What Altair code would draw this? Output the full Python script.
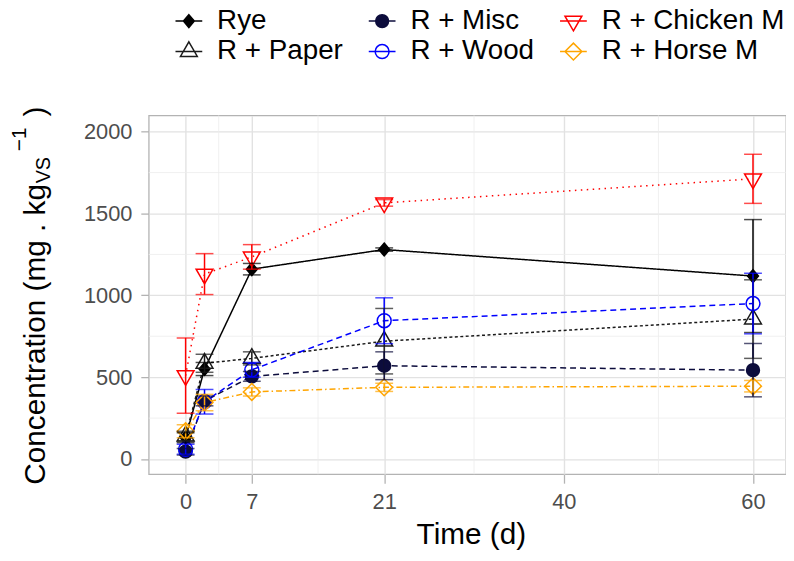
import altair as alt
import pandas as pd

# ---------------- data ----------------
days = [0, 2, 7, 21, 60]
# legend is laid out column by column: (Rye, Paper) (Misc, Wood) (Chicken, Horse)
series_order = ["Rye", "R + Paper", "R + Misc", "R + Wood", "R + Chicken M", "R + Horse M"]

rye_mean = [130, 550, 1160, 1280, 1118]
rye_sd = [30, 40, 35, 10, 345]
paper_mean = [140, 585, 615, 720, 855]
paper_sd = [30, 55, 40, 200, 240]
misc_mean = [45, 355, 505, 570, 543]
misc_sd = [20, 30, 30, 85, 163]
wood_mean = [60, 350, 545, 845, 950]
wood_sd = [30, 75, 45, 140, 185]
chicken_mean = [510, 1130, 1235, 1565, 1712]
chicken_sd = [230, 125, 75, 20, 150]
horse_mean = [170, 345, 410, 438, 445]
horse_sd = [40, 50, 25, 25, 35]

colors = ["#000000", "#1a1a1a", "#0c0c3c", "#0000ff", "#ff0000", "#ffa500"]
fills = ["#000000", "transparent", "#0c0c3c", "transparent", "transparent", "transparent"]
dashes = [[1, 0], [3, 2.5], [6, 4], [6, 4], [1.5, 4.5], [6, 3, 1.5, 3]]

x_ticks = [0, 7, 21, 40, 60]
x_minor = [3.5, 14, 30.5, 50]
y_ticks = [0, 500, 1000, 1500, 2000]
y_minor = [250, 750, 1250, 1750]

means = {"Rye": rye_mean, "R + Misc": misc_mean, "R + Chicken M": chicken_mean,
         "R + Paper": paper_mean, "R + Wood": wood_mean, "R + Horse M": horse_mean}
sds = {"Rye": rye_sd, "R + Misc": misc_sd, "R + Chicken M": chicken_sd,
       "R + Paper": paper_sd, "R + Wood": wood_sd, "R + Horse M": horse_sd}

rows = []
for s in series_order:
    for d, m, e in zip(days, means[s], sds[s]):
        rows.append({"series": s, "day": d, "value": m, "lo": m - e, "hi": m + e})
df = pd.DataFrame(rows)

# ---------------- shapes (pixel geometry -> unit paths) ----------------
PLOT_UNIT = 9.0    # point size 324
LEG_UNIT = 13.5    # legend symbol size 729


def poly(pts, u):
    return "M" + "L".join(f"{x / u:.3f},{y / u:.3f}" for x, y in pts) + "Z"


def circ(r, u):
    a = r / u
    return f"M{a:.3f},0A{a:.3f},{a:.3f},0,1,1,{-a:.3f},0A{a:.3f},{a:.3f},0,1,1,{a:.3f},0Z"


geom = {
    "Rye": ("p", [(0, -6.5), (5.5, 0), (0, 6.5), (-5.5, 0)]),
    "R + Misc": ("c", 6.5),
    "R + Chicken M": ("p", [(0, 9.8), (8.5, -4.9), (-8.5, -4.9)]),
    "R + Paper": ("p", [(0, -9.8), (8.5, 4.9), (-8.5, 4.9)]),
    "R + Wood": ("c", 7.0),
    "R + Horse M": ("p", [(0, -8.5), (8.5, 0), (0, 8.5), (-8.5, 0)]),
}


def shape_path(s, u):
    kind, g = geom[s]
    return poly(g, u) if kind == "p" else circ(g, u)


plot_paths = [shape_path(s, PLOT_UNIT) for s in series_order]
legend_paths = ["M-1,0L1,0" + shape_path(s, LEG_UNIT) for s in series_order]

# ---------------- scales / axes ----------------
FONT = "Liberation Sans"
xscale = alt.Scale(domain=[-3.9, 63.49], nice=False, zero=False)
yscale = alt.Scale(domain=[-93, 2099], nice=False, zero=False)
xaxis = alt.Axis(values=x_ticks, title="Time (d)", tickSize=9, labelPadding=9,
                 titleBaseline="alphabetic", titleY=70, titleX=325, format="d")
yaxis = alt.Axis(values=y_ticks, title=None, tickSize=8, labelPadding=9, format="d")

color_scale = alt.Scale(domain=series_order, range=colors)
fill_scale = alt.Scale(domain=series_order, range=fills)

X = alt.X("day:Q", scale=xscale, axis=xaxis)


def Y(field):
    return alt.Y(f"{field}:Q", scale=yscale, axis=yaxis)


base = alt.Chart(df)

grid_v = alt.Chart(pd.DataFrame({"gx": x_minor})).mark_rule(
    color="#ececec", strokeWidth=0.8).encode(x=alt.X("gx:Q", scale=xscale, axis=xaxis))
grid_h = alt.Chart(pd.DataFrame({"gy": y_minor})).mark_rule(
    color="#ececec", strokeWidth=0.8).encode(y=alt.Y("gy:Q", scale=yscale, axis=yaxis))

lines = base.mark_line(strokeWidth=1.5).encode(
    x=X, y=Y("value"),
    color=alt.Color("series:N", scale=color_scale, legend=None),
    strokeDash=alt.StrokeDash("series:N", scale=alt.Scale(domain=series_order, range=dashes), legend=None),
)

points = base.mark_point(size=324, strokeWidth=1.5, opacity=1, filled=False).encode(
    x=X, y=Y("value"),
    color=alt.Color("series:N", scale=color_scale, legend=None),
    fill=alt.Fill("series:N", scale=fill_scale, legend=None),
    shape=alt.Shape("series:N", scale=alt.Scale(domain=series_order, range=plot_paths), legend=None),
)

err_rule = base.mark_rule(strokeWidth=1.5).encode(
    x=X, y=Y("lo"), y2="hi:Q",
    color=alt.Color("series:N", scale=color_scale, legend=None),
)
cap_lo = base.mark_tick(orient="horizontal", size=18, thickness=1.5).encode(
    x=X, y=Y("lo"), color=alt.Color("series:N", scale=color_scale, legend=None))
cap_hi = base.mark_tick(orient="horizontal", size=18, thickness=1.5).encode(
    x=X, y=Y("hi"), color=alt.Color("series:N", scale=color_scale, legend=None))

plot_layer = alt.layer(grid_v, grid_h, lines, points, err_rule, cap_lo, cap_hi)

leg = alt.Legend(orient="none", legendX=26, legendY=-110, columns=3, columnPadding=23,
                 rowPadding=2, symbolSize=729, symbolStrokeWidth=1.5, labelFontSize=28,
                 labelFont=FONT, labelColor="black", labelOffset=14, labelLimit=0,
                 title=None, padding=0, gridAlign="each")

legend_layer = base.mark_point(size=0, strokeWidth=1.5, opacity=1, filled=False).encode(
    x=X, y=Y("value"),
    color=alt.Color("series:N", scale=color_scale, legend=leg),
    fill=alt.Fill("series:N", scale=fill_scale, legend=leg),
    shape=alt.Shape("series:N", scale=alt.Scale(domain=series_order, range=legend_paths), legend=leg),
)

one = pd.DataFrame({"k": [0]})
tmain = alt.Chart(one).mark_text(text="Concentration (mg . kg", font=FONT, fontSize=30, angle=270,
                                 align="left", baseline="alphabetic", color="black").encode(
    x=alt.value(-105), y=alt.value(372.5))
tsub = alt.Chart(one).mark_text(text="VS", font=FONT, fontSize=20, angle=270,
                                align="left", baseline="alphabetic", color="black").encode(
    x=alt.value(-100), y=alt.value(68.5))
tsup = alt.Chart(one).mark_text(text="\u22121", font=FONT, fontSize=21, angle=270,
                                align="left", baseline="alphabetic", color="black").encode(
    x=alt.value(-124), y=alt.value(36))
tclose = alt.Chart(one).mark_text(text=")", font=FONT, fontSize=30, angle=270,
                                  align="left", baseline="alphabetic", color="black").encode(
    x=alt.value(-105), y=alt.value(1))

chart = alt.layer(plot_layer, legend_layer, tmain, tsub, tsup, tclose).resolve_scale(
    color="independent", fill="independent", shape="independent"
).properties(
    width=643, height=362,
    autosize=alt.AutoSizeParams(type="none"),
    padding={"left": 142, "top": 106, "right": 0, "bottom": 77},
).configure_view(
    stroke="#b3b3b3", strokeWidth=1.3
).configure_axis(
    labelFont=FONT, titleFont=FONT, labelFontSize=22, labelColor="#4d4d4d",
    tickColor="#b3b3b3", tickWidth=1.3, domain=False, grid=True, gridColor="#e2e2e2",
    gridWidth=1.4, titleFontWeight="normal", titleColor="black", titleFontSize=30,
)

chart.save("out.html", embed_options={"renderer": "svg", "actions": False})
